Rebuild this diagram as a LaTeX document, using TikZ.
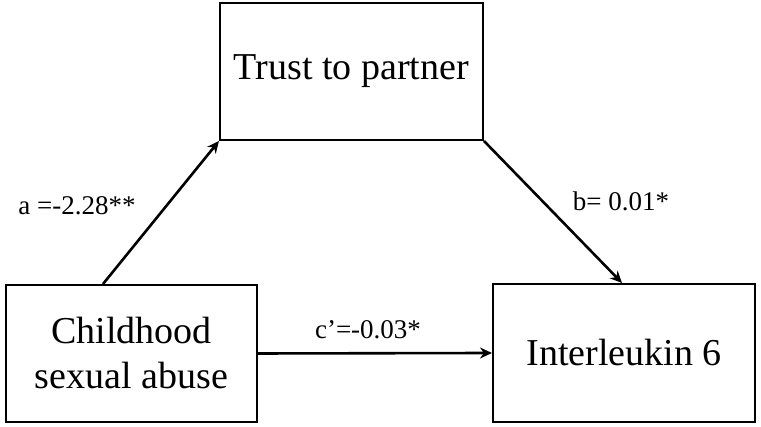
\documentclass[tikz,border=0pt]{standalone}
\usepackage{fontspec}
\setmainfont{Liberation Serif}
\usetikzlibrary{arrows.meta}
\begin{document}
\begin{tikzpicture}[x=1pt,y=1pt,
  varbox/.style={draw, line width=2pt, align=center, inner sep=0pt,
    font=\fontsize{38}{45}\selectfont},
  coef/.style={font=\fontsize{27}{30}\selectfont},
  path/.style={line width=2.6pt, -{Stealth[length=12pt,width=11pt]}}]
\useasboundingbox (0,0) rectangle (761,427);

\node[varbox, minimum width=263pt, minimum height=137pt] (trust) at (351.5,355.5)
{Trust to partner};

\node[varbox, minimum width=251pt, minimum height=137pt] (abuse) at (131.5,73.5)
{Childhood\\sexual abuse};

\node[varbox, minimum width=262pt, minimum height=138pt] (il6) at (624,74)
{Interleukin 6};

\draw[path] ([xshift=-28.5pt]abuse.north) -- (trust.south west);
\draw[path] (trust.south east) -- ([xshift=-2pt]il6.north);
\draw[path] (abuse.east) -- (il6.west);

\node[coef] (alab) at (77,221) {a =-2.28**};
\node[coef] (blab) at (621,226) {b= 0.01*};
\node[coef] (clab) at (368,97) {c’=-0.03*};
\end{tikzpicture}
\end{document}
